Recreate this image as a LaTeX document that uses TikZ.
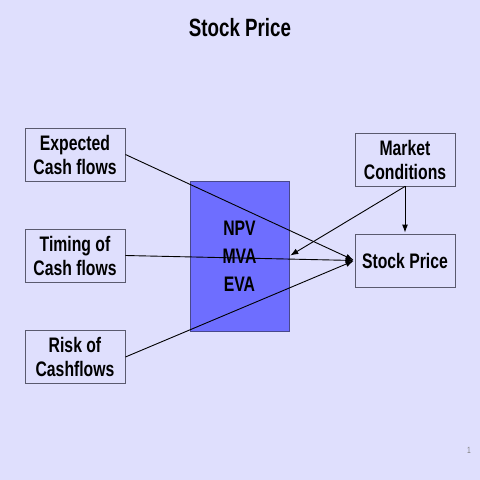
\documentclass[tikz,border=0pt]{standalone}
\usepackage{fontspec}
\setmainfont{Liberation Sans}[FakeStretch=0.75]
\usetikzlibrary{arrows.meta}
\definecolor{slidebg}{RGB}{223,223,253}
\definecolor{npvblue}{RGB}{110,110,255}
\definecolor{boxline}{RGB}{90,90,110}

\begin{document}
\begin{tikzpicture}[-,>={Latex[length=8pt,width=6pt]},shorten >=1pt,x=1pt,y=-1pt,
  line width=0.9pt,
  factor node/.style={rectangle,draw=boxline,fill=slidebg,minimum width=100pt,minimum height=53pt,
    align=center,inner sep=2pt,font=\fontsize{21}{24}\selectfont\bfseries}]

  \fill[slidebg] (0,0) rectangle (480,480);

  \node[font=\fontsize{25}{28}\selectfont\bfseries] (title) at (240,28) {Stock Price};

  \node[rectangle,draw=boxline!80!blue,fill=npvblue,minimum width=99pt,minimum height=150pt,
    align=center,font=\fontsize{21}{28}\selectfont\bfseries] (npv) at (239.5,256) {NPV\\MVA\\EVA};

  \node[factor node] (exp) at (75,154.5) {Expected\\Cash flows};
  \node[factor node] (tim) at (75,255.5) {Timing of\\Cash flows};
  \node[factor node] (risk) at (75,357) {Risk of\\Cashflows};
  \node[factor node] (mkt) at (405,159.5) {Market\\Conditions};
  \node[factor node] (stock) at (405,260.5) {Stock Price};

  \node[text=gray,font=\fontsize{9}{10}\selectfont] (page) at (469,450) {1};

  \path[every edge/.style={draw=black,->}]
    (exp.east) edge (stock.west)
    (tim.east) edge (stock.west)
    (risk.east) edge (stock.west)
    (mkt.south) edge (stock.north)
    (mkt.south) edge (npv.east) ;

\end{tikzpicture}
\end{document}
